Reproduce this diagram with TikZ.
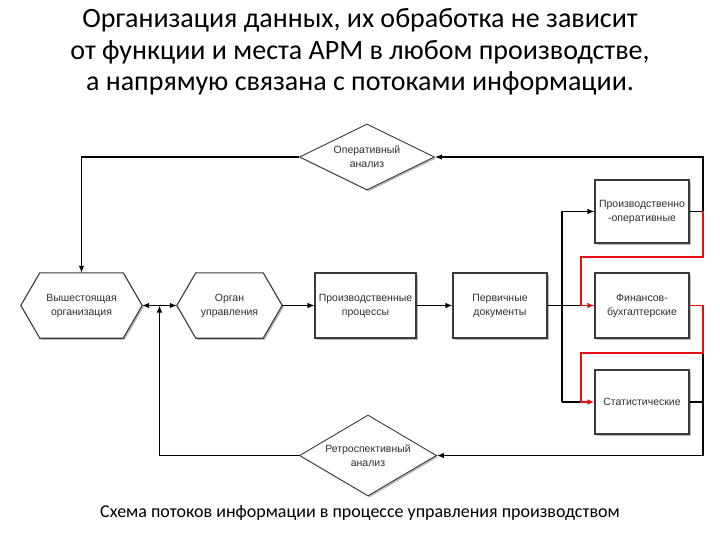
\documentclass[tikz,border=0pt]{standalone}
\usepackage{fontspec}
\setmainfont{Carlito}
\newfontfamily\arialf{Liberation Sans}
\usetikzlibrary{arrows.meta,shapes.geometric,calc,shadows}
\definecolor{boxline}{HTML}{3A3A3A}
\definecolor{txt}{HTML}{303030}
\definecolor{redline}{HTML}{E01010}
\tikzset{
  shad/.style={drop shadow={shadow xshift=1.6pt, shadow yshift=-1.6pt, fill=black!45, opacity=0.6}},
  boxtext/.style={font=\arialf\fontsize{10.5}{14}\selectfont, text=txt, align=center},
  rectbox/.style={draw=boxline, fill=white, shad, line width=1.1pt, rectangle, inner sep=0pt, boxtext},
  hexbox/.style={draw=none, rectangle, inner sep=0pt, boxtext},
  hexline/.style={draw=boxline, fill=white, shad, line width=1.1pt, line join=miter},
  diambox/.style={draw=boxline, fill=white, shad, line width=0.9pt, diamond, inner sep=0pt},
  conn/.style={draw=black, line width=1.1pt, -{Latex[length=7pt,width=5.5pt]}},
  plain/.style={draw=black, line width=1.1pt},
  redconn/.style={draw=redline, line width=1.25pt, -{Latex[length=7pt,width=5.5pt]}},
}
\begin{document}
\begin{tikzpicture}[x=1pt,y=-1pt]
\useasboundingbox (0,0) rectangle (720,540);
% title
\node[font=\fontsize{28}{31.5}\selectfont, align=center, text=black] (title) at (360,52)
  {Организация данных, их обработка не зависит\\от функции и места АРМ в любом производстве,\\а напрямую связана с потоками информации.};
% caption
\node[font=\fontsize{18}{22}\selectfont, text=black] (cap) at (360,513)
  {Схема потоков информации в процессе управления производством};

% hexagons
\node[hexbox, minimum width=121pt, minimum height=65pt] (vo) at (81.5,305.5) {};
\node[hexbox, minimum width=105pt, minimum height=65pt] (org) at (229.5,305.5) {};
\foreach \n in {vo,org}{
  \draw[hexline] (\n.west) -- ([xshift=19pt]\n.north west) -- ([xshift=-19pt]\n.north east)
    -- (\n.east) -- ([xshift=-19pt]\n.south east) -- ([xshift=19pt]\n.south west) -- cycle;
}
\node[boxtext] (vot) at (vo) {Вышестоящая\\организация};
\node[boxtext] (orgt) at (org) {Орган\\управления};
% rectangles
\node[rectbox, minimum width=101pt, minimum height=65pt] (pp) at (365.5,305.5) {Производственные\\процессы};
\node[rectbox, minimum width=94pt, minimum height=65pt] (pd) at (500,305.5) {Первичные\\документы};
\node[rectbox, minimum width=94pt, minimum height=63pt] (po) at (642,211.5) {Производственно\\-оперативные};
\node[rectbox, minimum width=94pt, minimum height=65pt] (fb) at (642,305.5) {Финансов-\\бухгалтерские};
\node[rectbox, minimum width=94pt, minimum height=64pt] (st) at (642,402) {Статистические};
% diamonds
\node[diambox, minimum width=135pt, minimum height=66pt] (op) at (367,157) {};
\node[boxtext] (opt) at (op) {Оперативный\\анализ};
\node[diambox, minimum width=137pt, minimum height=81pt] (ra) at (368,455.5) {};
\node[boxtext] (rat) at (ra) {Ретроспективный\\анализ};

% helper coordinates
\coordinate (bx) at (562,0);
\coordinate (lx) at (581,0);
\coordinate (rx) at (703,0);
\coordinate (r1) at (0,257);
\coordinate (r2) at (0,353);
\coordinate (mid) at ($(vo.east)!0.5!(org.west)$);

% left loop from operative analysis
\draw[conn] (op.west) -| (vo.north);
% double arrow
\draw[plain, {Latex[length=7pt,width=5.5pt]}-{Latex[length=7pt,width=5.5pt]}] (vo.east) -- (org.west);
% retrospective to middle
\draw[conn, line width=0.9pt] (ra.west) -| (mid);
% main chain
\draw[conn] (org.east) -- (pp.west);
\draw[conn] (pp.east) -- (pd.west);
% bus
\draw[plain] (pd.east) -- (lx |- pd.east);
\draw[plain] (bx |- po.west) -- (bx |- st.west);
\draw[conn] (bx |- po.west) -- (po.west);
\draw[plain] (bx |- st.west) -- (lx |- st.west);
% outputs to analysis
\draw[conn] (po.east) -- (po.east -| rx) -- (rx |- op.east) -- (op.east);
\draw[plain] (st.east) -- (st.east -| rx);
\draw[conn] (rx |- r2) -- (rx |- ra.east) -- (ra.east);
% red flows
\draw[redconn] (po.east -| rx) -- (rx |- r1) -- (lx |- r1) -- (lx |- fb.west) -- (fb.west);
\draw[redconn] (fb.east) -- (fb.east -| rx) -- (rx |- r2) -- (lx |- r2) -- (lx |- st.west) -- (st.west);
\end{tikzpicture}
\end{document}
